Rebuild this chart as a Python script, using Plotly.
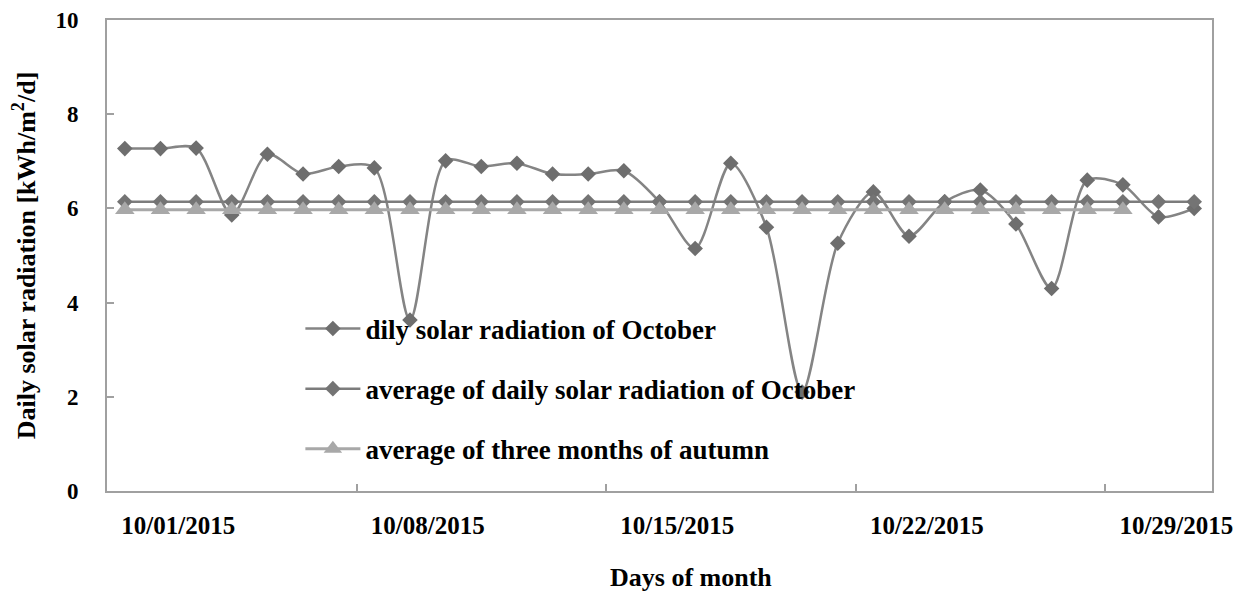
import plotly.graph_objects as go

days = list(range(1, 32))
daily = [7.27, 7.27, 7.28, 5.86, 7.15, 6.73, 6.89, 6.86, 3.63, 7.01,
         6.89, 6.96, 6.73, 6.73, 6.80, 6.14, 5.15, 6.96, 5.60, 2.10,
         5.26, 6.35, 5.41, 6.14, 6.39, 5.67, 4.30, 6.60, 6.50, 5.82, 6.00]
avg_october = [6.14] * 31
autumn_days = list(range(1, 30))
avg_autumn = [5.97] * 29

tick_label_pos = [2.5, 9.5, 16.5, 23.5, 30.5]
tick_labels = ["10/01/2015", "10/08/2015", "10/15/2015", "10/22/2015", "10/29/2015"]
tick_mark_pos = [7.5, 14.5, 21.5, 28.5]

FONT = "Liberation Serif"

fig = go.Figure()
fig.add_trace(go.Scatter(
    x=days, y=daily, mode="lines+markers", name="dily solar radiation of October",
    line=dict(color="#848484", width=2.5, shape="spline", smoothing=0.8),
    marker=dict(symbol="diamond", size=12, color="#6e6e6e"),
    legendgroup="a"))
fig.add_trace(go.Scatter(
    x=days, y=avg_october, mode="lines+markers",
    name="average of daily solar radiation of October",
    line=dict(color="#7c7c7c", width=2.5),
    marker=dict(symbol="diamond", size=12, color="#747474"),
    legendgroup="b"))
fig.add_trace(go.Scatter(
    x=autumn_days, y=avg_autumn, mode="lines+markers",
    name="average of three months of autumn",
    line=dict(color="#a8a8a8", width=3),
    marker=dict(symbol="triangle-up", size=17, color="#a8a8a8"),
    legendgroup="c"))

fig.update_layout(
    width=1235, height=583,
    margin=dict(l=99, r=31, t=12, b=100, autoexpand=False),
    paper_bgcolor="white", plot_bgcolor="white",
    font=dict(family=FONT, color="black"),
    showlegend=True,
    legend=dict(x=0.175, y=0.396, xanchor="left", yanchor="top",
                bgcolor="rgba(0,0,0,0)", tracegroupgap=22, itemwidth=55,
                font=dict(family=FONT, size=27, color="black", weight="bold")),
    xaxis=dict(
        range=[0.5, 31.5], showgrid=False, zeroline=False, automargin=False,
        showline=True, linecolor="#a0a0a0", linewidth=2, mirror=True,
        tickmode="array", tickvals=tick_label_pos, ticktext=tick_labels,
        ticks="", ticklabelstandoff=11,
        tickfont=dict(family=FONT, size=25, color="black", weight="bold"),
        minor=dict(tickmode="array", tickvals=tick_mark_pos, ticks="inside",
                   ticklen=7, tickcolor="#a0a0a0", tickwidth=1.5),
    ),
    yaxis=dict(
        range=[0, 10], showgrid=False, zeroline=False, automargin=False,
        showline=True, linecolor="#a0a0a0", linewidth=2, mirror=True,
        tickvals=[0, 2, 4, 6, 8, 10], ticks="inside", ticklen=7,
        tickcolor="#a0a0a0", tickwidth=1.5, ticklabelstandoff=22,
        tickfont=dict(family=FONT, size=23, color="black", weight="bold"),
        title=dict(text="<b>Daily solar radiation [kWh/m<sup>2</sup>/d]</b>", standoff=17,
                   font=dict(family=FONT, size=26, color="black")),
    ),
    annotations=[dict(
        text="<b>Days of month</b>", xref="paper", yref="paper",
        x=(683 - 99) / 1105, y=-0.184, xanchor="center", yanchor="middle",
        borderpad=0, showarrow=False, font=dict(family=FONT, size=26, color="black"))],
)

fig.write_html("out.html")
